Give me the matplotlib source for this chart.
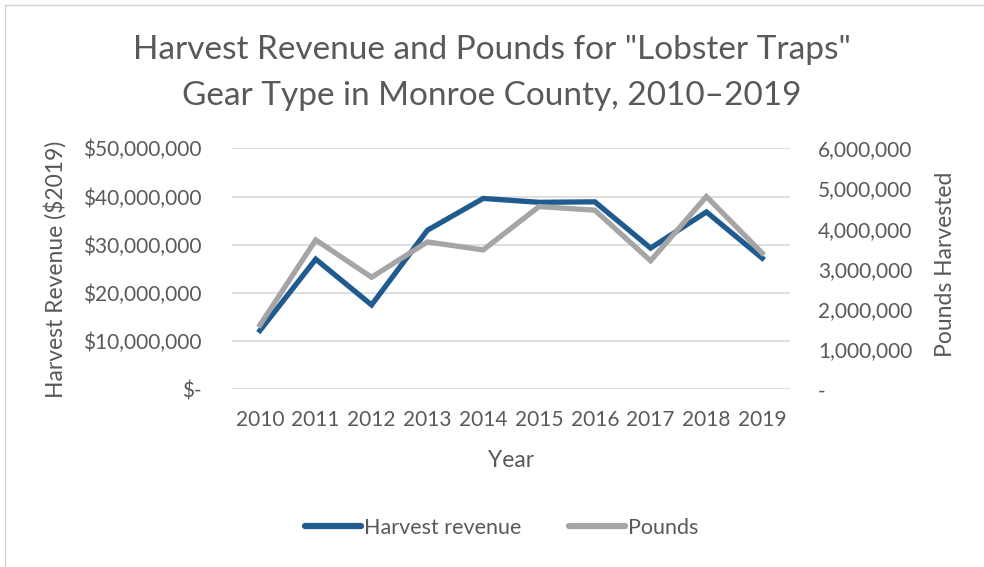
import matplotlib
matplotlib.use("Agg")
import matplotlib.pyplot as plt
from matplotlib.lines import Line2D
from matplotlib.ticker import FuncFormatter

years = [2010, 2011, 2012, 2013, 2014, 2015, 2016, 2017, 2018, 2019]
revenue = [12.2e6, 27.0e6, 17.5e6, 33.0e6, 39.6e6, 38.8e6, 38.9e6, 29.3e6, 36.8e6, 27.2e6]
pounds = [1.60e6, 3.72e6, 2.79e6, 3.67e6, 3.47e6, 4.55e6, 4.46e6, 3.20e6, 4.80e6, 3.39e6]

TEXT = "#595959"
GRID = "#d9d9d9"
BLUE = "#1f5b8e"
GRAY = "#a5a5a5"

plt.rcParams["font.family"] = ["Lato", "DejaVu Sans"]

fig = plt.figure(figsize=(9.84, 5.67), dpi=100)
ax = fig.add_axes([0.2358, 0.3134, 0.5672, 0.425])
ax2 = ax.twinx()  # secondary-axis series sits on top

x = list(range(len(years)))
ax.plot(x, revenue, color=BLUE, lw=3.8, solid_joinstyle="miter")
ax2.plot(x, pounds, color=GRAY, lw=3.8, solid_joinstyle="miter")

ax.set_xlim(-0.5, len(years) - 0.5)
ax.set_ylim(0, 50e6)
ax2.set_ylim(0, 6e6)
ax.set_yticks([i * 10e6 for i in range(6)])
ax2.set_yticks([i * 1e6 for i in range(7)])
ax.yaxis.set_major_formatter(FuncFormatter(lambda v, p: "$-" if v == 0 else f"${v:,.0f}"))
ax2.yaxis.set_major_formatter(FuncFormatter(lambda v, p: "-" if v == 0 else f"{v:,.0f}"))
ax.set_xticks(x)
ax.set_xticklabels([str(y) for y in years])

ax.grid(axis="y", color=GRID, lw=1.2)
ax.set_axisbelow(True)
for a in (ax, ax2):
    for s in a.spines.values():
        s.set_visible(False)
    a.tick_params(length=0, colors=TEXT, labelsize=15)
ax.tick_params(axis="y", pad=22)
ax2.tick_params(axis="y", pad=20)
ax.tick_params(axis="x", pad=15)

ax.set_xlabel("Year", color=TEXT, fontsize=16.5, labelpad=14)
fig.text(0.056, 0.525, "Harvest Revenue ($2019)", rotation=90, color=TEXT,
         fontsize=16.5, ha="center", va="center")
fig.text(0.961, 0.533, "Pounds Harvested", rotation=90, color=TEXT,
         fontsize=16.5, ha="center", va="center")

fig.text(0.5, 0.912, 'Harvest Revenue and Pounds for "Lobster Traps"',
         color=TEXT, fontsize=24, ha="center", va="center")
fig.text(0.5, 0.830, "Gear Type in Monroe County, 2010\u20132019",
         color=TEXT, fontsize=24, ha="center", va="center")

handles = [Line2D([0], [0], color=BLUE, lw=4.5, solid_capstyle="round"),
           Line2D([0], [0], color=GRAY, lw=4.5, solid_capstyle="round")]
fig.legend(handles, ["Harvest revenue", "Pounds"], loc="center", bbox_to_anchor=(0.51, 0.069),
           ncol=2, frameon=False, fontsize=15.5, labelcolor=TEXT, handlelength=2.6,
           handletextpad=0.15, columnspacing=2.2)

# thin chart border on the left and top edges
fig.add_artist(Line2D([0.005, 0.005], [0, 0.992], transform=fig.transFigure, color="#d0d0d0", lw=1))
fig.add_artist(Line2D([0.005, 1], [0.992, 0.992], transform=fig.transFigure, color="#d0d0d0", lw=1))

fig.savefig("out.png", dpi=100, facecolor="white")
